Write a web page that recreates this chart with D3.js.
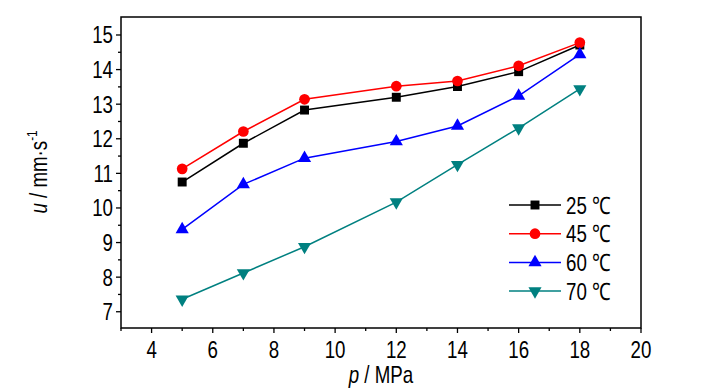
<!DOCTYPE html>
<html><head><meta charset="utf-8">
<script src="https://cdn.jsdelivr.net/npm/d3@7/dist/d3.min.js"></script>
<style>body{margin:0;background:#fff}svg{display:block}</style>
</head><body><svg id="c" width="727" height="390" font-family="'Liberation Sans', Arial, Helvetica, sans-serif"></svg>
<script>
const pressures = [5, 7, 9, 12, 14, 16, 18];
const u25 = [10.75, 11.87, 12.83, 13.20, 13.51, 13.94, 14.71];
const u45 = [11.13, 12.21, 13.14, 13.52, 13.67, 14.11, 14.78];
const u60 = [9.38, 10.68, 11.44, 11.92, 12.37, 13.24, 14.44];
const u70 = [7.36, 8.12, 8.88, 10.17, 11.25, 12.31, 13.44];
const seriesNames = ["25 ℃", "45 ℃", "60 ℃", "70 ℃"];
const xTicks = [4, 6, 8, 10, 12, 14, 16, 18, 20];
const yTicks = [7, 8, 9, 10, 11, 12, 13, 14, 15];

const series = [
  {name: seriesNames[0], vals: u25, color: "#000000", sym: d3.symbolSquare, size: 80, rot: 0},
  {name: seriesNames[1], vals: u45, color: "#ff0000", sym: d3.symbolCircle, size: 90, rot: 0},
  {name: seriesNames[2], vals: u60, color: "#0000ff", sym: d3.symbolTriangle, size: 75, rot: 0},
  {name: seriesNames[3], vals: u70, color: "#008080", sym: d3.symbolTriangle, size: 75, rot: 180}
];

const L = 121, R = 641, T = 17, B = 328;
const x = d3.scaleLinear().domain([3, 20]).range([L, R]);
const y = d3.scaleLinear().domain([6.53, 15.52]).range([B, T]);
const svg = d3.select("#c");
const FS = 24, SX = 0.78;

svg.append("rect").attr("x", L).attr("y", T).attr("width", R - L).attr("height", B - T)
  .attr("fill", "none").attr("stroke", "#000").attr("stroke-width", 1.5);

const xMinor = d3.range(3, 20.01, 1);
svg.selectAll(".xt").data(xMinor).join("line")
  .attr("x1", d => x(d)).attr("x2", d => x(d)).attr("y1", B)
  .attr("y2", d => B + (d % 2 === 0 ? 5 : 3)).attr("stroke", "#000").attr("stroke-width", 1.3);
const yMinor = d3.range(7, 15.01, 0.5);
svg.selectAll(".yt").data(yMinor).join("line")
  .attr("y1", d => y(d)).attr("y2", d => y(d)).attr("x1", L)
  .attr("x2", d => L - (Number.isInteger(d) ? 5 : 3)).attr("stroke", "#000").attr("stroke-width", 1.3);

svg.selectAll(".xl").data(xTicks).join("text")
  .attr("transform", d => `translate(${x(d)},${B + 30}) scale(${SX},1)`)
  .attr("text-anchor", "middle").attr("font-size", FS).attr("fill", "#000").text(d => d);
svg.selectAll(".yl").data(yTicks).join("text")
  .attr("transform", d => `translate(${L - 8},${y(d) + 8.5}) scale(${SX},1)`)
  .attr("text-anchor", "end").attr("font-size", FS).attr("fill", "#000").text(d => d);

const xt = svg.append("text").attr("transform", `translate(381,383) scale(${SX},1)`)
  .attr("text-anchor", "middle").attr("font-size", FS);
xt.append("tspan").attr("font-style", "italic").text("p");
xt.append("tspan").text(" / MPa");
const yt = svg.append("text").attr("transform", `translate(47,172) rotate(-90) scale(${SX},1)`)
  .attr("text-anchor", "middle").attr("font-size", FS);
yt.append("tspan").attr("font-style", "italic").text("u");
yt.append("tspan").text(" / mm·s");
yt.append("tspan").attr("font-size", 15).attr("dy", -10).text("-1");

const line = d3.line().x((d, i) => x(pressures[i])).y(d => y(d));
series.forEach(s => {
  svg.append("path").datum(s.vals).attr("d", line).attr("fill", "none")
    .attr("stroke", s.color).attr("stroke-width", 1.5);
  svg.selectAll(null).data(s.vals).join("path")
    .attr("d", d3.symbol().type(s.sym).size(s.size))
    .attr("transform", (d, i) => `translate(${x(pressures[i])},${y(d)}) rotate(${s.rot})`)
    .attr("fill", s.color);
});

series.forEach((s, i) => {
  const ly = 205 + i * 28.7;
  svg.append("line").attr("x1", 509).attr("x2", 561).attr("y1", ly).attr("y2", ly)
    .attr("stroke", s.color).attr("stroke-width", 1.5);
  svg.append("path").attr("d", d3.symbol().type(s.sym).size(s.size))
    .attr("transform", `translate(535,${ly}) rotate(${s.rot})`).attr("fill", s.color);
  svg.append("text").attr("transform", `translate(566,${ly + 8.5}) scale(${SX},1)`)
    .attr("font-size", FS).text(s.name);
});
</script></body></html>
